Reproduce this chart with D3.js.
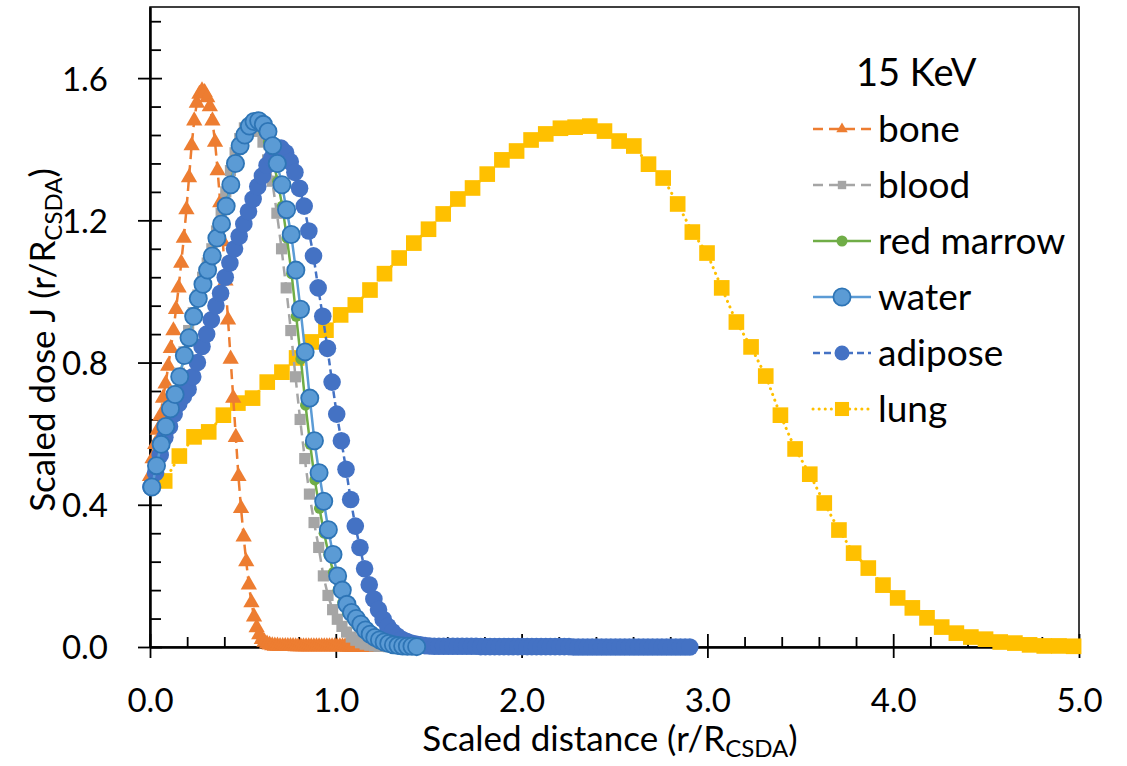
<!DOCTYPE html>
<html>
<head>
<meta charset="utf-8">
<script src="https://cdn.jsdelivr.net/npm/d3@7/dist/d3.min.js"></script>
<style>
  body { margin: 0; background: #fff; }
  svg { display: block; }
  text { font-family: Lato, "Open Sans", "DejaVu Sans", sans-serif; fill: #000; }
</style>
</head>
<body>
<svg id="chart" width="1127" height="766"></svg>
<script>
// ---- Scaled dose point kernels, 15 keV electrons ----

const xTickLabels = ["0.0", "1.0", "2.0", "3.0", "4.0", "5.0"];
const yTickLabels = ["0.0", "0.4", "0.8", "1.2", "1.6"];
const legendTitle = "15 KeV";
const materials = ["bone", "blood", "red marrow", "water", "adipose", "lung"];

const boneX = [0.000,0.014,0.028,0.042,0.056,0.070,0.084,0.098,0.112,0.126,
  0.140,0.154,0.168,0.182,0.196,0.210,0.224,0.238,0.252,0.266,
  0.280,0.294,0.308,0.322,0.336,0.350,0.364,0.378,0.392,0.406,
  0.420,0.434,0.448,0.462,0.476,0.490,0.504,0.518,0.532,0.546,
  0.560,0.574,0.588,0.602,0.616,0.630,0.644,0.658,0.672,0.686,
  0.700,0.714,0.728,0.742,0.756,0.770,0.784,0.798,0.812,0.826,
  0.840,0.854,0.868,0.882,0.896,0.910,0.924,0.938,0.952,0.966,
  0.980,0.994,1.008,1.022,1.036,1.050,1.064,1.078,1.092,1.106,
  1.120,1.134,1.148,1.162,1.176,1.190];
const boneY = [0.48,0.53,0.57,0.61,0.65,0.70,0.74,0.79,0.84,0.89,
  0.95,1.01,1.08,1.15,1.23,1.32,1.41,1.48,1.53,1.555,
  1.565,1.56,1.545,1.52,1.48,1.42,1.34,1.25,1.14,1.03,
  0.92,0.81,0.70,0.59,0.48,0.39,0.31,0.24,0.175,0.125,
  0.085,0.055,0.035,0.022,0.014,0.009,0.006,0.004,0.003,0.003,
  0.002,0.002,0.002,0.002,0.002,0.002,0.001,0.001,0.001,0.001,
  0.001,0.001,0.001,0.001,0.001,0.001,0.001,0.001,0.001,0.001,
  0.001,0.001,0.001,0.001,0.001,0.001,0.000,0.000,0.000,0.000,
  0.000,0.000,0.000,0.000,0.000,0.000];

const bloodX = [0.008,0.033,0.058,0.083,0.108,0.133,0.158,0.183,0.208,0.233,
  0.258,0.283,0.308,0.333,0.358,0.383,0.408,0.433,0.458,0.483,
  0.508,0.533,0.558,0.583,0.608,0.633,0.658,0.683,0.708,0.733,
  0.758,0.783,0.808,0.833,0.858,0.883,0.908,0.933,0.958,0.983,
  1.008,1.033,1.058,1.083,1.108,1.133,1.158,1.183,1.208,1.233,
  1.258,1.283];
const bloodY = [0.45,0.51,0.57,0.62,0.67,0.72,0.77,0.83,0.89,0.94,
  0.99,1.04,1.08,1.12,1.17,1.22,1.28,1.34,1.39,1.43,
  1.46,1.47,1.47,1.45,1.42,1.37,1.31,1.22,1.12,1.01,
  0.89,0.76,0.64,0.53,0.43,0.35,0.28,0.20,0.145,0.105,
  0.078,0.058,0.042,0.028,0.019,0.012,0.008,0.005,0.003,0.002,
  0.002,0.001];

const marrowX = [0.012,0.037,0.062,0.087,0.112,0.137,0.162,0.187,0.212,0.237,
  0.262,0.287,0.312,0.337,0.362,0.387,0.412,0.437,0.462,0.487,
  0.512,0.537,0.562,0.587,0.612,0.637,0.662,0.687,0.712,0.737,
  0.762,0.787,0.812,0.837,0.862,0.887,0.912,0.937,0.962,0.987,
  1.012,1.037,1.062,1.087,1.112,1.137,1.162,1.187,1.212,1.237,
  1.262,1.287,1.312,1.337,1.362,1.387];
const marrowY = [0.45,0.51,0.57,0.62,0.67,0.72,0.77,0.82,0.88,0.93,
  0.98,1.03,1.07,1.11,1.16,1.20,1.25,1.31,1.37,1.42,
  1.45,1.465,1.47,1.465,1.45,1.42,1.37,1.31,1.24,1.15,
  1.05,0.93,0.81,0.68,0.57,0.47,0.39,0.32,0.26,0.21,
  0.16,0.125,0.097,0.080,0.063,0.048,0.036,0.026,0.019,0.013,
  0.009,0.006,0.004,0.003,0.002,0.001];

const waterX = [0.010,0.035,0.060,0.085,0.110,0.135,0.160,0.185,0.210,0.235,
  0.260,0.285,0.310,0.335,0.360,0.385,0.410,0.435,0.460,0.485,
  0.510,0.535,0.560,0.585,0.610,0.635,0.660,0.685,0.710,0.735,
  0.760,0.785,0.810,0.835,0.860,0.885,0.910,0.935,0.960,0.985,
  1.010,1.035,1.060,1.085,1.110,1.135,1.160,1.185,1.210,1.235,
  1.260,1.285,1.310,1.335,1.360,1.385,1.410,1.435];
const waterY = [0.45,0.51,0.57,0.62,0.67,0.71,0.76,0.82,0.87,0.93,
  0.98,1.02,1.06,1.10,1.15,1.19,1.24,1.30,1.36,1.41,
  1.44,1.465,1.478,1.48,1.47,1.45,1.41,1.36,1.30,1.23,
  1.16,1.06,0.95,0.83,0.70,0.58,0.49,0.41,0.33,0.26,
  0.20,0.16,0.12,0.097,0.080,0.064,0.048,0.036,0.027,0.020,
  0.014,0.010,0.006,0.004,0.003,0.002,0.002,0.001];

const adiposeX = [0.005,0.030,0.055,0.080,0.105,0.130,0.155,0.180,0.205,0.230,
  0.255,0.280,0.305,0.330,0.355,0.380,0.405,0.430,0.455,0.480,
  0.505,0.530,0.555,0.580,0.605,0.630,0.655,0.680,0.705,0.730,
  0.755,0.780,0.805,0.830,0.855,0.880,0.905,0.930,0.955,0.980,
  1.005,1.030,1.055,1.080,1.105,1.130,1.155,1.180,1.205,1.230,
  1.255,1.280,1.305,1.330,1.355,1.380,1.405,1.430,1.455,1.480,
  1.505,1.530,1.555,1.580,1.605,1.630,1.655,1.680,1.705,1.730,
  1.755,1.780,1.805,1.830,1.855,1.880,1.905,1.930,1.955,1.980,
  2.005,2.030,2.055,2.080,2.105,2.130,2.155,2.180,2.205,2.230,
  2.255,2.280,2.305,2.330,2.355,2.380,2.405,2.430,2.455,2.480,
  2.505,2.530,2.555,2.580,2.605,2.630,2.655,2.680,2.705,2.730,
  2.755,2.780,2.805,2.830,2.855,2.880,2.905];
const adiposeY = [0.45,0.49,0.54,0.59,0.62,0.655,0.685,0.705,0.725,0.76,
  0.80,0.845,0.88,0.92,0.96,0.995,1.04,1.08,1.12,1.155,
  1.19,1.225,1.26,1.295,1.325,1.355,1.375,1.395,1.403,1.39,
  1.365,1.335,1.29,1.24,1.17,1.10,1.01,0.93,0.84,0.745,
  0.655,0.58,0.50,0.415,0.34,0.28,0.22,0.175,0.135,0.105,
  0.078,0.058,0.043,0.031,0.022,0.016,0.011,0.008,0.006,0.004,
  0.003,0.002,0.002,0.002,0.002,0.002,0.002,0.002,0.002,0.002,
  0.002,0.001,0.001,0.001,0.001,0.001,0.001,0.001,0.001,0.001,
  0.001,0.001,0.001,0.001,0.001,0.001,0.001,0.001,0.001,0.001,
  0.001,0.000,0.000,0.000,0.000,0.000,0.000,0.000,0.000,0.000,
  0.000,0.000,0.000,0.000,0.000,0.000,0.000,0.000,0.000,0.000,
  0.000,0.000,0.000,0.000,0.000,0.000,0.000];

const lungX = [0.079,0.158,0.237,0.316,0.395,0.473,0.552,0.631,0.710,0.789,
  0.868,0.947,1.026,1.105,1.184,1.262,1.341,1.420,1.499,1.578,
  1.657,1.736,1.815,1.894,1.973,2.051,2.130,2.209,2.288,2.367,
  2.446,2.525,2.604,2.683,2.762,2.840,2.919,2.998,3.077,3.156,
  3.235,3.314,3.393,3.472,3.551,3.629,3.708,3.787,3.866,3.945,
  4.024,4.103,4.182,4.261,4.340,4.418,4.497,4.576,4.655,4.734,
  4.813,4.892,4.971];
const lungY = [0.467,0.537,0.591,0.605,0.652,0.686,0.700,0.745,0.773,0.813,
  0.858,0.891,0.934,0.962,1.004,1.050,1.094,1.136,1.175,1.218,
  1.260,1.291,1.330,1.370,1.395,1.426,1.443,1.459,1.462,1.465,
  1.451,1.423,1.409,1.358,1.319,1.246,1.167,1.108,1.010,0.914,
  0.844,0.762,0.652,0.557,0.486,0.405,0.329,0.264,0.222,0.174,
  0.138,0.110,0.082,0.056,0.039,0.028,0.022,0.014,0.011,0.006,
  0.003,0.003,0.002];

// ---- layout ----
const svg = d3.select("#chart");
const plot = { left: 150, right: 1079, top: 7, bottom: 647 };
const x = d3.scaleLinear().domain([0, 5]).range([plot.left, plot.right]);
const y = d3.scaleLinear().domain([0, 1.8]).range([plot.bottom, plot.top]);

const xMajor = xTickLabels.map(Number);
const yMajor = yTickLabels.map(Number);
const xMinor = d3.range(1, 25).map(i => i * 0.2).filter(v => Math.abs(v - Math.round(v)) > 1e-6);
const yMinor = d3.range(1, 23).map(i => i * 0.08).filter(v => Math.abs(v / 0.4 - Math.round(v / 0.4)) > 1e-6);

// plot frame (top and right edges)
svg.append("rect")
  .attr("x", plot.left).attr("y", plot.top)
  .attr("width", plot.right - plot.left).attr("height", plot.bottom - plot.top)
  .attr("fill", "none").attr("stroke", "#000").attr("stroke-width", 1.5);

// x axis: major ticks cross the axis line, minor ticks sit inside
const gx = svg.append("g").attr("transform", `translate(0,${plot.bottom})`)
  .call(d3.axisBottom(x).tickValues(xMajor).tickSizeInner(11).tickSizeOuter(0)
    .tickPadding(30).tickFormat((d, i) => xTickLabels[i]));
gx.selectAll(".tick line").attr("y1", -13);
svg.append("g").attr("transform", `translate(0,${plot.bottom})`)
  .call(d3.axisBottom(x).tickValues(xMinor).tickSizeInner(-10).tickSizeOuter(0).tickFormat(""));

// y axis
const gy = svg.append("g").attr("transform", `translate(${plot.left},0)`)
  .call(d3.axisLeft(y).tickValues(yMajor).tickSizeInner(12).tickSizeOuter(0)
    .tickPadding(30).tickFormat((d, i) => yTickLabels[i]));
gy.selectAll(".tick line").attr("x1", 12);
svg.append("g").attr("transform", `translate(${plot.left},0)`)
  .call(d3.axisLeft(y).tickValues(yMinor).tickSizeInner(-11).tickSizeOuter(0).tickFormat(""));

svg.selectAll(".domain").attr("stroke", "#000").attr("stroke-width", 2);
svg.selectAll(".tick line").attr("stroke", "#000").attr("stroke-width", 1.8);
gx.selectAll(".tick text").attr("font-size", 33).attr("font-family", "Lato")
  .attr("dy", null).attr("y", 65);
gy.selectAll(".tick text").attr("font-size", 33).attr("font-family", "Lato")
  .attr("x", -42).attr("dy", "0.36em");

// axis titles
const xt = svg.append("text").attr("x", 610).attr("y", 751)
  .attr("text-anchor", "middle").attr("font-size", 35);
xt.append("tspan").text("Scaled distance (r/R");
xt.append("tspan").attr("font-size", 24).attr("dy", 6).text("CSDA");
xt.append("tspan").attr("dy", -6).text(")");

const yt = svg.append("text").attr("transform", "translate(55,340) rotate(-90)")
  .attr("text-anchor", "middle").attr("font-size", 35);
yt.append("tspan").text("Scaled dose J (r/R");
yt.append("tspan").attr("font-size", 24).attr("dy", 7).text("CSDA");
yt.append("tspan").attr("dy", -7).text(")");

// ---- series ----
const series = {
  "bone":       { xs: boneX,    ys: boneY,    color: "#ED7D31", dash: "10,6",  width: 2.5, marker: "triangle", size: 115 },
  "blood":      { xs: bloodX,   ys: bloodY,   color: "#A5A5A5", dash: "10,6",  width: 2.5, marker: "square",   size: 125 },
  "red marrow": { xs: marrowX,  ys: marrowY,  color: "#70AD47", dash: null,    width: 2.5, marker: "circle",   r: 5.5 },
  "water":      { xs: waterX,   ys: waterY,   color: "#5B9BD5", dash: null,    width: 2.5, marker: "circle",   r: 8.6, stroke: "#2E75B6" },
  "adipose":    { xs: adiposeX, ys: adiposeY, color: "#4472C4", dash: "7,4",   width: 2.5, marker: "circle",   r: 8.8 },
  "lung":       { xs: lungX,    ys: lungY,    color: "#FFC000", dash: "0.1,6", width: 3,   marker: "square",   size: 245, cap: "round" }
};
const drawOrder = ["lung", "bone", "blood", "red marrow", "adipose", "water"];

const line = d3.line().x(d => x(d[0])).y(d => y(d[1]));

function drawMarker(g, s, px, py, scale) {
  const k = scale || 1;
  if (s.marker === "circle") {
    g.append("circle").attr("cx", px).attr("cy", py).attr("r", s.r * k)
      .attr("fill", s.color)
      .attr("stroke", s.stroke || s.color).attr("stroke-width", s.stroke ? 1.8 : 0);
  } else {
    const type = s.marker === "triangle" ? d3.symbolTriangle : d3.symbolSquare;
    g.append("path").attr("d", d3.symbol().type(type).size(s.size * k * k)())
      .attr("transform", `translate(${px},${py})`).attr("fill", s.color);
  }
}

drawOrder.forEach(name => {
  const s = series[name];
  const pts = s.xs.map((v, i) => [v, s.ys[i]]);
  const g = svg.append("g").attr("class", "series");
  g.append("path").datum(pts).attr("d", line)
    .attr("fill", "none").attr("stroke", s.color).attr("stroke-width", s.width)
    .attr("stroke-dasharray", s.dash).attr("stroke-linecap", s.cap || "butt");
  pts.forEach(p => drawMarker(g, s, x(p[0]), y(p[1])));
});

// ---- legend ----
const lg = svg.append("g");
lg.append("text").attr("x", 856).attr("y", 86).attr("font-size", 38).text(legendTitle);
const legendScale = { "bone": 0.7, "blood": 0.75, "red marrow": 1, "water": 1, "adipose": 0.85, "lung": 0.9 };
materials.forEach((name, i) => {
  const s = series[name];
  const cy = 129 + i * 56;
  lg.append("line").attr("x1", 813).attr("x2", 871).attr("y1", cy).attr("y2", cy)
    .attr("stroke", s.color).attr("stroke-width", s.width)
    .attr("stroke-dasharray", s.dash).attr("stroke-linecap", s.cap || "butt");
  drawMarker(lg, s, 842, cy, legendScale[name]);
  lg.append("text").attr("x", 878).attr("y", cy + 13).attr("font-size", 37).text(name);
});
</script>
</body>
</html>
